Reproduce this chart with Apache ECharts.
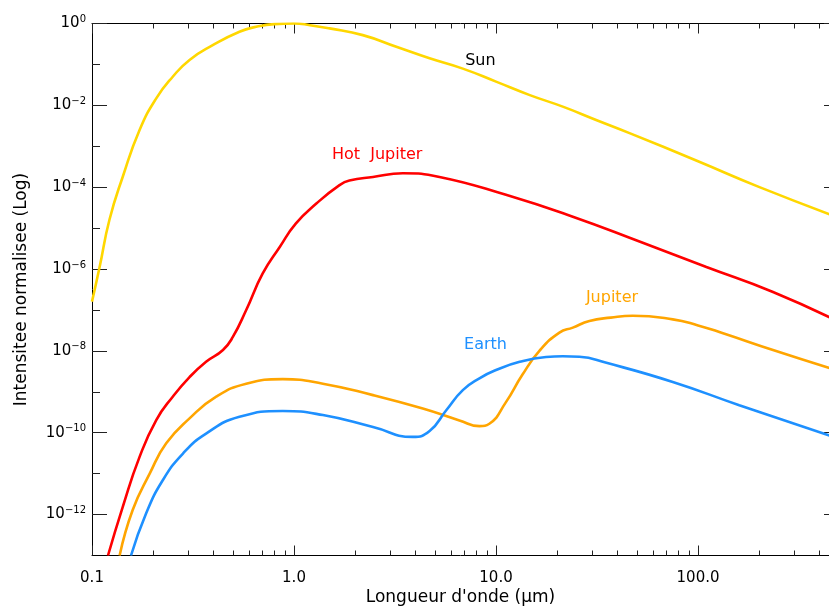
<!DOCTYPE html>
<html>
<head>
<meta charset="utf-8">
<script src="https://cdn.jsdelivr.net/npm/echarts@6.0.0/dist/echarts.min.js"></script>
<style>
    html, body { margin: 0; padding: 0; background: #fff; }
    #main { width: 829px; height: 606px; }
</style>
</head>
<body>
<div id="main"></div>
<script type="text/javascript">

    // wavelength (um) / normalised intensity
    var sunX = [0.1, 0.109, 0.122, 0.142, 0.172, 0.208, 0.251, 0.304, 0.396, 0.537, 0.65, 0.8, 1.0, 1.2, 1.5, 2.19, 3.21, 4.69, 6.85, 10, 14.7, 21.4, 31.3, 45.8, 100, 200, 500];
    var sunY = [1.6e-7, 1.1e-6, 1.6e-5, 1.8e-4, 2.5e-3, 1.48e-2, 5.0e-2, 0.129, 0.295, 0.63, 0.83, 0.966, 1.0, 0.91, 0.76, 0.52, 0.27, 0.141, 0.079, 0.038, 0.0178, 9.3e-3, 4.4e-3, 2.1e-3, 4.3e-4, 1.02e-4, 1.78e-5];

    var hotX = [0.12, 0.142, 0.172, 0.208, 0.251, 0.304, 0.367, 0.445, 0.498, 0.58, 0.70, 0.85, 1.02, 1.29, 1.68, 1.88, 2.46, 3.46, 5.25, 11.2, 24, 51.3, 110, 235, 500];
    var hotY = [1.0e-13, 1.55e-12, 2.57e-11, 2.04e-10, 7.6e-10, 2.29e-9, 5.4e-9, 1.05e-8, 2.19e-8, 1.0e-7, 7.8e-7, 3.47e-6, 1.29e-5, 3.98e-5, 1.12e-4, 1.45e-4, 1.78e-4, 2.19e-4, 1.78e-4, 6.5e-5, 1.9e-5, 4.7e-6, 1.12e-6, 2.75e-7, 5.1e-8];

    var jupX = [0.137, 0.159, 0.193, 0.233, 0.304, 0.412, 0.58, 0.88, 1.39, 2.46, 4.34, 6.59, 8.28, 9.27, 11.2, 13.5, 16.4, 20.6, 24, 29, 37, 47.5, 75, 100, 133, 235, 500];
    var jupY = [1e-13, 1.29e-12, 1e-11, 5.5e-11, 2.24e-10, 7.6e-10, 1.58e-9, 2.04e-9, 1.58e-9, 8.3e-10, 3.9e-10, 2.0e-10, 1.45e-10, 1.66e-10, 5.6e-10, 2.6e-9, 1.0e-8, 2.8e-8, 3.7e-8, 5.4e-8, 6.5e-8, 7.2e-8, 5.9e-8, 4.2e-8, 2.7e-8, 1.05e-8, 3.2e-9];

    var earthX = [0.156, 0.185, 0.224, 0.282, 0.367, 0.537, 0.88, 1.39, 2.46, 3.87, 4.69, 5.67, 6.85, 8.28, 10, 13.1, 17.7, 21.4, 25.9, 35.2, 75, 160, 500];
    var earthY = [1e-13, 1.05e-12, 6.9e-12, 3.1e-11, 9.5e-11, 2.45e-10, 3.4e-10, 2.7e-10, 1.38e-10, 7.9e-11, 1.1e-10, 3.55e-10, 1.1e-9, 2.14e-9, 3.4e-9, 5.4e-9, 7.1e-9, 7.4e-9, 7.2e-9, 5.1e-9, 1.74e-9, 4.7e-10, 7.1e-11];

    // tick positions (log10 of value)
    var xMajor = [-1, 0, 1, 2];
    var yMajor = [0, -2, -4, -6, -8, -10, -12];
    var yMinor = [-1, -3, -5, -7, -9, -11];

    var FONT = 'DejaVu Sans';
    var X_MAX = 445;
    var lxMin = -1, lxMax = Math.log10(X_MAX);

    var xMinor = [];
    for (var d = -1; d <= 2; d++) {
        for (var k = 2; k <= 9; k++) {
            var v = d + Math.log10(k);
            if (v < lxMax - 1e-9) xMinor.push(v);
        }
    }

    function zip(xs, ys) {
        return xs.map(function (x, i) { return [x, ys[i]]; });
    }

    var tickStyle = { color: '#222', width: 1 };

    // helper axis on log10 scale that only carries ticks (and labels)
    function tickAxis(pos, min, max, vals, len, label, line) {
        return {
            type: 'value',
            position: pos,
            min: min,
            max: max,
            axisLine: { show: !!line, onZero: false, lineStyle: { color: '#000', width: 1 } },
            splitLine: { show: false },
            axisTick: { show: true, inside: true, length: len, customValues: vals, lineStyle: tickStyle },
            axisLabel: label || { show: false }
        };
    }

    var ec = echarts.init(document.getElementById('main'));

    var option = {
        backgroundColor: '#fff',
        animation: false,
        grid: { left: 92, top: 23.5, width: 737, height: 532, outerBoundsMode: 'none', containLabel: false },
        xAxis: [
            {
                type: 'log', logBase: 10, position: 'bottom', min: 0.1, max: X_MAX,
                axisLine: { onZero: false, lineStyle: { color: '#000', width: 1 } },
                axisTick: { show: false }, axisLabel: { show: false }, splitLine: { show: false },
                name: "Longueur d'onde (\u03bcm)", nameLocation: 'middle', nameGap: 34,
                nameTextStyle: { fontFamily: FONT, fontSize: 17, color: '#000' }
            },
            tickAxis('bottom', lxMin, lxMax, xMajor, 10, {
                show: true, customValues: xMajor, margin: 15,
                fontFamily: FONT, fontSize: 15, color: '#000',
                formatter: function (v) { return Math.pow(10, v).toFixed(1); }
            }),
            tickAxis('bottom', lxMin, lxMax, xMinor, 5),
            tickAxis('top', lxMin, lxMax, xMajor, 10, null, true),
            tickAxis('top', lxMin, lxMax, xMinor, 5)
        ],
        yAxis: [
            {
                type: 'log', logBase: 10, position: 'left', min: 1e-13, max: 1,
                axisLine: { onZero: false, lineStyle: { color: '#000', width: 1 } },
                axisTick: { show: false }, axisLabel: { show: false }, splitLine: { show: false },
                name: 'Intensitee normalisee (Log)', nameLocation: 'middle', nameGap: 62,
                nameTextStyle: { fontFamily: FONT, fontSize: 17, color: '#000' }
            },
            tickAxis('left', -13, 0, yMajor, 15, {
                show: true, customValues: yMajor, margin: 6,
                formatter: function (v) {
                    var e = Math.round(v);
                    return '{b|10}{s|' + (e === 0 ? '0' : '\u2212' + (-e)) + '}';
                },
                rich: {
                    b: { fontFamily: FONT, fontSize: 15, color: '#000', lineHeight: 18 },
                    s: { fontFamily: FONT, fontSize: 10, color: '#000', verticalAlign: 'top', lineHeight: 12 }
                }
            }),
            tickAxis('left', -13, 0, yMinor, 8),
            tickAxis('right', -13, 0, yMajor, 5)
        ],
        series: [
            {
                name: 'Sun', type: 'line', data: zip(sunX, sunY), smooth: 0.5, showSymbol: false,
                lineStyle: { color: '#FFD700', width: 2.6 },
                markPoint: { symbolSize: 0, data: [{ coord: [8.37, 0.125], value: 'Sun' }],
                    label: { show: true, formatter: 'Sun', color: '#000', fontFamily: FONT, fontSize: 16 } }
            },
            {
                name: 'Hot Jupiter', type: 'line', data: zip(hotX, hotY), smooth: 0.5, showSymbol: false,
                lineStyle: { color: '#FF0000', width: 2.6 },
                markPoint: { symbolSize: 0, data: [{ coord: [2.58, 6.1e-4], value: 'Hot Jupiter' }],
                    label: { show: true, formatter: 'Hot  Jupiter', color: '#FF0000', fontFamily: FONT, fontSize: 16 } }
            },
            {
                name: 'Jupiter', type: 'line', data: zip(jupX, jupY), smooth: 0.5, showSymbol: false,
                lineStyle: { color: '#FFA500', width: 2.6 },
                markPoint: { symbolSize: 0, data: [{ coord: [37.5, 2.0e-7], value: 'Jupiter' }],
                    label: { show: true, formatter: 'Jupiter', color: '#FFA500', fontFamily: FONT, fontSize: 16 } }
            },
            {
                name: 'Earth', type: 'line', data: zip(earthX, earthY), smooth: 0.5, showSymbol: false,
                lineStyle: { color: '#1E90FF', width: 2.6 },
                markPoint: { symbolSize: 0, data: [{ coord: [8.87, 1.38e-8], value: 'Earth' }],
                    label: { show: true, formatter: 'Earth', color: '#1E90FF', fontFamily: FONT, fontSize: 16 } }
            }
        ]
    };

    ec.setOption(option);
</script>
</body>
</html>
